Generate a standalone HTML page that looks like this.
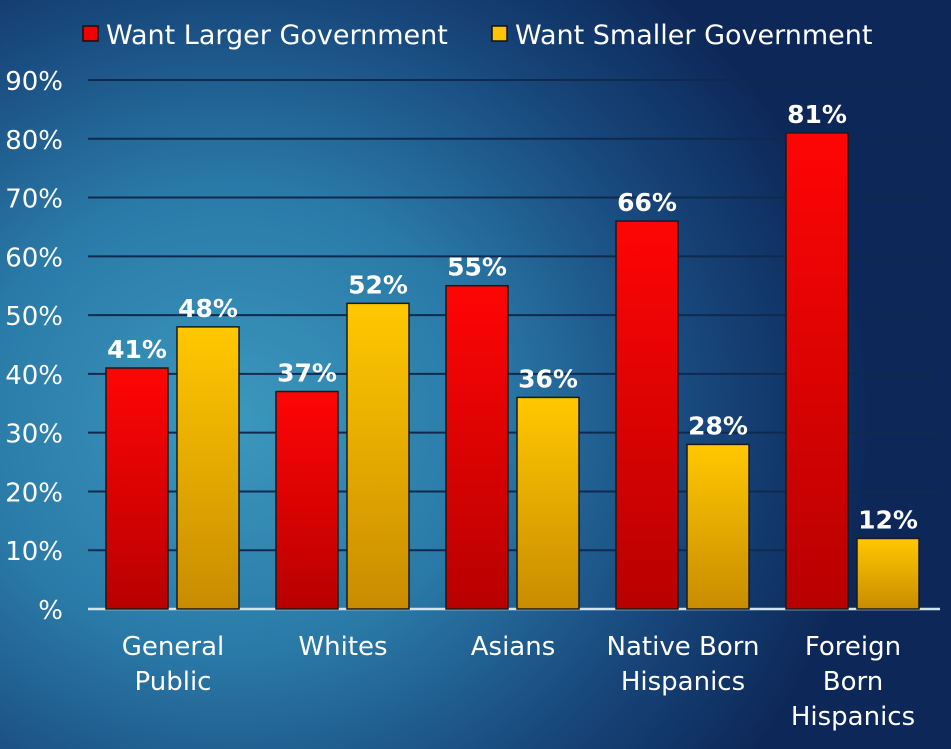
<!DOCTYPE html>
<html><head><meta charset="utf-8"><style>
html,body{margin:0;padding:0}
body{width:951px;height:749px;overflow:hidden;background:radial-gradient(ellipse 640px 580px at 230px 420px,#3b98bd 0%,#2a7aa8 40%,#17457a 75%,#0d2858 100%);font-family:"DejaVu Sans","Liberation Sans",sans-serif}
svg{position:absolute;left:0;top:0}
</style></head><body>
<svg width="951" height="749">
<defs>
<linearGradient id="gr" x1="0" y1="0" x2="0" y2="1"><stop offset="0" stop-color="#ff0505"/><stop offset="1" stop-color="#b80000"/></linearGradient>
<linearGradient id="gy" x1="0" y1="0" x2="0" y2="1"><stop offset="0" stop-color="#ffc800"/><stop offset="1" stop-color="#c98c00"/></linearGradient>
</defs>
<g id="grid"></g><g id="bars"></g><g id="labels"></g>
<g>
<rect x="83" y="26" width="15" height="15" fill="#f00000" stroke="#111" stroke-width="1.5"/>
<text x="106" y="44" font-size="27" fill="#fff">Want Larger Government</text>
<rect x="492" y="26" width="15" height="15" fill="#ffc400" stroke="#111" stroke-width="1.5"/>
<text x="515" y="44" font-size="27" fill="#fff">Want Smaller Government</text>
</g>
</svg>
<script>
const categories=[["General","Public"],["Whites"],["Asians"],["Native Born","Hispanics"],["Foreign","Born","Hispanics"]];
const larger=[41,37,55,66,81];
const smaller=[48,52,36,28,12];
const ticks=[0,10,20,30,40,50,60,70,80,90];
const tickLabels=["%","10%","20%","30%","40%","50%","60%","70%","80%","90%"];
const NS="http://www.w3.org/2000/svg";
const y0=609,y90=80;
const y=v=>y0-(y0-y90)*v/90;
const groupX=i=>106+170*i;
function mk(t,a,p){const e=document.createElementNS(NS,t);for(const k in a)e.setAttribute(k,a[k]);p.appendChild(e);return e;}
const grid=document.getElementById('grid'),bars=document.getElementById('bars'),labels=document.getElementById('labels');
ticks.forEach((t,i)=>{
  if(t>0){const l=mk('line',{x1:88,x2:940,y1:y(t),y2:y(t),stroke:'#0f2a4e','stroke-width':2},grid);
  
  }
  const tx=mk('text',{x:63,y:y(t)+10,'font-size':26,fill:'#fff','text-anchor':'end'},labels);
  tx.textContent=tickLabels[i];
  
  
});
const base=mk('line',{x1:88,x2:940,y1:y0,y2:y0,stroke:'#cfe6f0','stroke-width':2.5},grid);


categories.forEach((c,i)=>{
  const gx=groupX(i);
  [[larger[i],'url(#gr)',gx],[smaller[i],'url(#gy)',gx+71]].forEach(([v,f,x],j)=>{
    const r=mk('rect',{x:x,y:y(v),width:62,height:y0-y(v),fill:f,stroke:'#1a1a1a','stroke-width':1.5},bars);
    
    
    const t=mk('text',{x:x+31,y:y(v)-10,'font-size':25,'font-weight':'bold',fill:'#fff','text-anchor':'middle'},labels);
    t.textContent=v+'%';
    
    
  });
  c.forEach((line,k)=>{
    const t=mk('text',{x:gx+67,y:655+35*k,'font-size':26,fill:'#fff','text-anchor':'middle'},labels);
    t.textContent=line;
    
    
  });
});
</script>
</body></html>
